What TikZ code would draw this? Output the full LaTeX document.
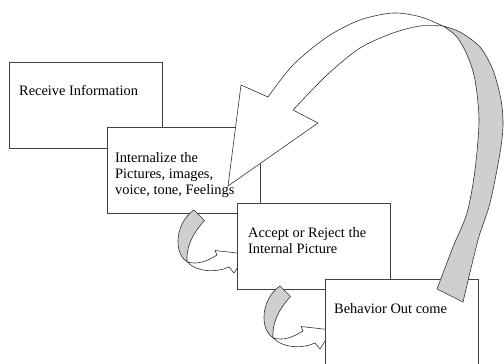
\documentclass[tikz,border=0pt]{standalone}
\usepackage{fontspec}
\setmainfont{Liberation Serif}

% small twisted arrow, placed by the top-left corner of its tail
\newcommand{\turnarrow}[1]{%
    \begin{scope}[shift={#1}]
        \filldraw[back] (0,0) -- (10.5,10.5) .. controls (-2,24) and (-8,38) .. (-7,51.7)
            .. controls (-20,44) and (-20,14) .. (0,0) -- cycle;
        \filldraw[face] (-7,51.7) .. controls (2,55) and (12,52) .. (23,45) -- (21,40.5) -- (52,44)
            -- (40,63) -- (35,57) .. controls (22,63) and (2,62) .. (-7,51.7) -- cycle;
    \end{scope}}

\begin{document}
\begin{tikzpicture}[x=1pt,y=-1pt,
        box/.style={draw=black!75,line width=0.8pt,fill=white,minimum width=153pt,
            minimum height=86pt,inner sep=0pt,anchor=north west},
        lbl/.style={font=\fontsize{14.4}{16}\selectfont,anchor=base west,inner sep=0pt,align=left},
        ribbon/.style={draw=black!80,line width=0.6pt,line join=round},
        face/.style={ribbon,fill=white},
        back/.style={ribbon,fill=black!19}]
    \useasboundingbox[fill=white] (0,0) rectangle (504,364);

    % steps, each one lying over the one before (labels sit on their last line)
    \node[box] (recv) at (9,62) {};
    \node[lbl] (recvtxt) at ([xshift=10pt,yshift=-33pt]recv.north west) {Receive Information};

    \node[box] (intern) at (107,127) {};
    \node[lbl] (interntxt) at ([xshift=8pt,yshift=-67pt]intern.north west)
        {Internalize the\\Pictures, images,\\voice, tone, Feelings};

    \turnarrow{(194,210)}

    \node[box] (accept) at (237,203) {};
    \node[lbl] (accepttxt) at ([xshift=11pt,yshift=-50pt]accept.north west)
        {Accept or Reject the\\Internal Picture};

    \turnarrow{(280,286)}

    \node[box] (behav) at (325,279) {};
    \node[lbl] (behavtxt) at ([xshift=9pt,yshift=-34pt]behav.north west) {Behavior Out come};

    % big ribbon going back from the outcome to the second step
    \filldraw[back] (443,26) -- plot[smooth] coordinates {(443,26) (460,32) (480,47) (493,70)
            (501,100) (503,125) (500,153) (490,203) (478,240) (463,302)}
        -- (437,289) -- plot[smooth] coordinates {(437,289) (453,247) (467,213) (475,170)
            (479,120) (475,80) (468,57) (457,37) (443,26)} -- cycle;
    \filldraw[face] (443,26) -- plot[smooth] coordinates {(443,26) (420,16.7) (393,13) (360,20)
            (327,37) (293,65) (268,97)}
        -- (241,85) -- (228,186) -- (318,123) -- (293,110)
        -- plot[smooth] coordinates {(293,110) (327,75) (360,48) (393,33) (420,26) (443,26)} -- cycle;
\end{tikzpicture}
\end{document}
